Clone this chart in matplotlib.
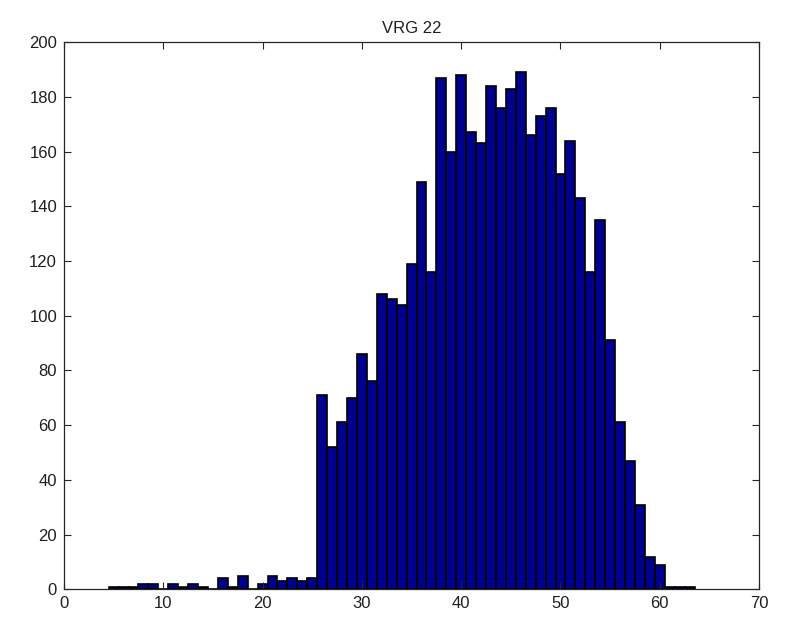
"""VRG 22 histogram, MATLAB-style look."""
import numpy as np
import matplotlib

matplotlib.use("Agg")
import matplotlib.pyplot as plt

BAR_COLOR = "#00008F"
EDGE_COLOR = "#000000"
AXIS_COLOR = "#262626"
TEXT_COLOR = "#1F1F1F"

plt.rcParams.update({
    "font.family": ["Liberation Sans", "DejaVu Sans"],
    "font.size": 12,
})

# bin centres and counts
bins = np.arange(5, 64)
counts = [
    1, 1, 1, 2, 2, 0, 2, 1, 2, 1,          # 5-14
    0, 4, 1, 5, 0, 2, 5, 3, 4, 3,          # 15-24
    4, 71, 52, 61, 70, 86, 76, 108, 106, 104,  # 25-34
    119, 149, 116, 187, 160, 188, 167, 163, 184, 176,  # 35-44
    183, 189, 166, 173, 176, 152, 164, 143, 116, 135,  # 45-54
    91, 61, 47, 31, 12, 9, 1, 1, 1,        # 55-63
]

x_ticks = np.arange(0, 71, 10)
y_ticks = np.arange(0, 201, 20)

fig = plt.figure(figsize=(7.85, 6.21), dpi=100)
fig.patch.set_facecolor("white")
ax = fig.add_axes([0.0815, 0.051, 0.8855, 0.881])

ax.bar(bins, counts, width=1.0, color=BAR_COLOR, edgecolor=EDGE_COLOR,
       linewidth=1.2, align="center")

ax.set_xlim(0, 70)
ax.set_ylim(0, 200)
ax.set_xticks(x_ticks)
ax.set_yticks(y_ticks)
ax.tick_params(direction="in", length=5, width=0.8, colors=AXIS_COLOR,
               labelcolor=TEXT_COLOR, labelsize=12, top=True, right=True,
               pad=5)
for sp in ax.spines.values():
    sp.set_color(AXIS_COLOR)
    sp.set_linewidth(0.9)

ax.set_title("VRG 22", fontsize=12, color=TEXT_COLOR, pad=7)

fig.savefig("out.png", dpi=100, facecolor="white")
plt.close(fig)
